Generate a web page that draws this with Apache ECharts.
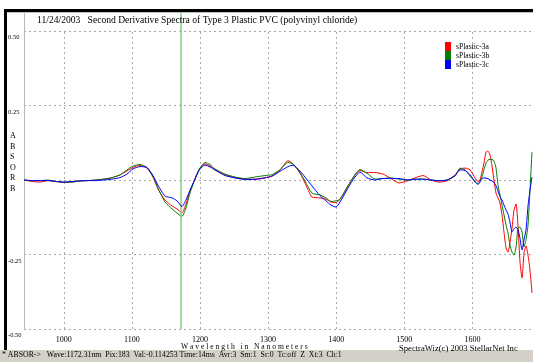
<!DOCTYPE html>
<html><head><meta charset="utf-8">
<script src="https://cdn.jsdelivr.net/npm/echarts@6/dist/echarts.min.js"></script>
<style>html,body{margin:0;padding:0;background:#fff}#c{width:533px;height:362px}</style>
</head><body><div id="c"></div>
<script>
const wavelengths = [941.6,953.3,965.1,976.8,988.5,1000.3,1012.0,1023.8,1035.5,1047.3,1059.0,1070.8,1082.5,
1092.8,1101.6,1111.9,1122.2,1131.0,1138.3,1148.6,1158.9,1166.2,1173.6,1179.4,1185.3,1194.1,1200.0,1207.3,1214.7,1222.0,
1236.7,1251.4,1266.1,1280.8,1295.4,1305.7,1317.5,1329.2,1336.6,1346.9,1354.2,1364.5,1376.2,1385.0,1392.4,1399.7,1405.6,1417.3,1427.6,1434.9,1445.2,1457.0,1468.7,1480.5,1492.2,1504.0,1515.7,1527.5,1539.2,1551.0,1562.7,1574.5,1581.8,1589.2,1596.5,1603.9,
1608.2,1611.2,1614.1,1617.0,1620.0,1622.9,1625.9,1628.8,1631.7,1634.7,1637.6,1640.5,1643.5,1646.4,1649.4,1652.3,1655.2,1658.2,1661.1,1664.1,1667.0,1669.9,1672.9,1675.8,1678.7,1681.7,1684.6,1687.5];

const plastic3a = [0.000,-0.005,-0.007,-0.002,-0.005,-0.008,-0.007,-0.003,-0.002,0.000,0.003,0.008,0.017,
0.030,0.042,0.049,0.040,0.010,-0.030,-0.067,-0.087,-0.097,-0.110,-0.081,-0.040,0.012,0.040,0.054,0.047,0.034,
0.018,0.008,0.003,0.003,0.008,0.013,0.032,0.065,0.054,0.023,-0.010,-0.057,-0.060,-0.064,-0.074,-0.076,-0.064,-0.020,0.017,0.032,0.025,0.025,0.020,0.005,-0.010,-0.003,0.007,0.015,0.000,-0.007,-0.003,0.017,0.037,0.040,0.034,0.007,
-0.005,0.000,0.027,0.057,0.094,0.097,0.084,0.047,0.000,-0.044,-0.060,-0.077,-0.117,-0.175,-0.228,-0.242,-0.211,-0.161,-0.101,-0.081,-0.154,-0.275,-0.329,-0.245,-0.221,-0.252,-0.302,-0.379];

const plastic3b = [0.000,-0.002,-0.002,0.000,-0.005,-0.007,-0.007,-0.003,-0.002,0.000,0.003,0.008,0.017,
0.034,0.047,0.052,0.042,0.012,-0.027,-0.074,-0.097,-0.111,-0.122,-0.094,-0.044,0.013,0.040,0.059,0.052,0.037,
0.020,0.010,0.005,0.010,0.015,0.018,0.035,0.059,0.054,0.025,-0.003,-0.044,-0.050,-0.060,-0.072,-0.070,-0.065,-0.020,0.018,0.035,0.023,0.003,0.005,0.007,0.003,0.000,0.003,0.003,0.000,-0.003,0.000,0.013,0.040,0.034,0.013,-0.005,
-0.012,-0.003,0.010,0.034,0.057,0.067,0.069,0.069,0.064,0.040,-0.017,-0.050,-0.084,-0.117,-0.151,-0.178,-0.218,-0.242,-0.252,-0.225,-0.161,-0.158,-0.175,-0.224,-0.201,-0.151,-0.034,0.094];

const plastic3c = [0.000,-0.002,-0.002,-0.002,-0.005,-0.007,-0.005,-0.003,-0.002,-0.002,0.000,0.003,0.008,
0.020,0.037,0.045,0.042,0.015,-0.017,-0.054,-0.060,-0.070,-0.089,-0.067,-0.034,0.010,0.037,0.050,0.044,0.034,
0.015,0.007,0.002,0.002,0.007,0.013,0.029,0.045,0.050,0.030,0.010,-0.020,-0.052,-0.070,-0.084,-0.091,-0.074,-0.027,0.010,0.027,0.007,0.000,0.005,0.005,0.005,0.000,0.002,0.003,0.000,-0.002,0.000,0.015,0.034,0.032,0.018,-0.007,
-0.015,-0.007,0.005,0.007,0.006,0.005,0.000,-0.003,-0.008,-0.020,-0.037,-0.056,-0.067,-0.084,-0.101,-0.114,-0.141,-0.174,-0.164,-0.158,-0.168,-0.195,-0.235,-0.201,-0.168,-0.087,-0.034,0.010];

const seriesNames = ['sPlastic-3a','sPlastic-3b','sPlastic-3c'];
const seriesColors = ['#ff0000','#008000','#0000ff'];
const xTickLabels = [1000,1100,1200,1300,1400,1500,1600];
const yTickLabels = {'0.50':'0.50','0.25':'0.25','-0.25':'-0.25','-0.50':'-0.50'};
const cursorWavelength = 1172.31;

const titleText = '11/24/2003   Second Derivative Spectra of Type 3 Plastic PVC (polyvinyl chloride)';
const statusText = '* ABSOR->   Wave:1172.31nm  Pix:183  Val:-0.114253 Time:14ms  Avr:3  Sm:1  Sr:0  Tc:off  Z  Xt:3  Ch:1';
const serif = 'Liberation Serif, Times New Roman, serif';

const chart = echarts.init(document.getElementById('c'), null, {renderer:'canvas'});
const allSeries = [plastic3a, plastic3b, plastic3c].map((vals, k) => ({
  name: seriesNames[k],
  type: 'line',
  data: wavelengths.map((w, i) => [w, vals[i]]),
  showSymbol: false,
  smooth: 0.2,
  lineStyle: {color: seriesColors[k], width: 1},
  itemStyle: {color: seriesColors[k]},
  z: 3 + k,
  markLine: k === 0 ? {
    symbol: 'none', silent: true, animation: false,
    label: {show: false},
    lineStyle: {color: '#86cc86', type: 'solid', width: 1.5},
    data: [{xAxis: cursorWavelength}]
  } : undefined
}));

chart.setOption({
  animation: false,
  backgroundColor: '#ffffff',
  grid: {left: 24, right: 0, top: 12, bottom: 33, containLabel: false},
  legend: {
    orient: 'vertical', left: 445, top: 42, padding: 0, itemGap: 0,
    icon: 'rect', itemWidth: 6, itemHeight: 9,
    textStyle: {fontFamily: serif, fontSize: 7.6, color: '#000', lineHeight: 9},
    data: seriesNames
  },
  xAxis: {
    type: 'value', min: 941.6, max: 1689,
    axisLine: {show: false}, axisTick: {show: false},
    axisLabel: {
      fontFamily: serif, fontSize: 8, color: '#000', margin: 7,
      showMinLabel: false, showMaxLabel: false,
      formatter: v => xTickLabels.includes(Math.round(v)) && Math.abs(v - Math.round(v)) < 1e-6 ? String(Math.round(v)) : ''
    },
    splitLine: {show: true, lineStyle: {color: '#a8a8a8', type: [2, 3], width: 1}}
  },
  yAxis: {
    type: 'value', min: -0.5, max: 0.5638, interval: 0.25,
    axisLine: {show: true, lineStyle: {color: '#b8b8b8', width: 1}},
    axisTick: {show: false},
    axisLabel: {
      fontFamily: serif, fontSize: 6.5, color: '#000', margin: 16, align: 'left',
      verticalAlign: 'top', padding: [3, 0, 0, 0],
      showMaxLabel: false,
      formatter: v => yTickLabels[v.toFixed(2)] || ''
    },
    splitLine: {show: true, lineStyle: {color: '#a8a8a8', type: [2, 3], width: 1}}
  },
  graphic: [
    {type: 'rect', left: 25, top: 13, shape: {width: 508, height: 17.5}, style: {fill: '#fff'}, z: 1},
    {type: 'line', shape: {x1: 7, y1: 12.5, x2: 533, y2: 12.5}, style: {stroke: '#c0c0c0', lineWidth: 1}, z: 1},
    {type: 'rect', left: 4, top: 9, shape: {width: 529, height: 3}, style: {fill: '#000'}, z: 100},
    {type: 'rect', left: 4, top: 9, shape: {width: 3, height: 341}, style: {fill: '#000'}, z: 100},
    {type: 'rect', left: 0, top: 350, shape: {width: 533, height: 12}, style: {fill: '#d4d0c8'}, z: 100},
    {type: 'text', left: 2, top: 351, style: {text: statusText, font: '7.8px ' + serif, fill: '#000'}, z: 101},
    {type: 'text', left: 37, top: 15, style: {text: titleText, font: '9.6px ' + serif, fill: '#000'}, z: 101},
    {type: 'text', left: 10, top: 131, style: {text: 'A\nB\nS\nO\nR\nB', font: '8px ' + serif, fill: '#000', lineHeight: 10.5, align: 'center'}, z: 101},
    {type: 'text', left: 181, top: 343, style: {text: 'W a v e l e n g t h   i n   N a n o m e t e r s', font: '7.6px ' + serif, fill: '#000'}, z: 101},
    {type: 'text', left: 399, top: 344, style: {text: 'SpectraWiz(c) 2003 StellarNet Inc', font: '8.6px ' + serif, fill: '#000'}, z: 101}
  ],
  series: allSeries
});
</script></body></html>
